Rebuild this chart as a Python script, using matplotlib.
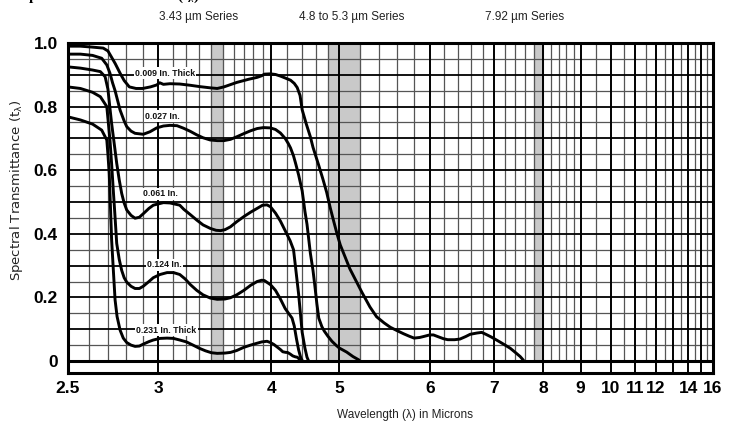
import numpy as np
import matplotlib
matplotlib.use("Agg")
import matplotlib.pyplot as plt

plt.rcParams['font.family'] = ['Liberation Sans Narrow', 'Liberation Sans', 'DejaVu Sans']
plt.rcParams['mathtext.default'] = 'regular'

# ---------------- data ----------------
lam_009 = [2.5, 2.56, 2.62, 2.675, 2.70, 2.72, 2.74, 2.767, 2.79, 2.82, 2.86, 2.90, 2.95, 2.99,
           3.01, 3.035, 3.08, 3.15, 3.23, 3.30, 3.39, 3.45, 3.51, 3.63, 3.75, 3.84, 3.89, 3.92,
           3.99, 4.05, 4.11, 4.18, 4.24, 4.29, 4.33, 4.37, 4.40, 4.46, 4.52, 4.56, 4.65, 4.72,
           4.78, 4.84, 4.90, 4.96, 5.01, 5.10, 5.22, 5.30, 5.37, 5.45, 5.52, 5.60, 5.67, 5.74,
           5.80, 5.87, 5.92, 6.0, 6.05, 6.13, 6.19, 6.25, 6.35, 6.43, 6.52, 6.59, 6.70, 6.78,
           6.85, 6.95, 7.1, 7.2, 7.3, 7.4, 7.5, 7.57]
t_009 = [0.99, 0.99, 0.987, 0.984, 0.975, 0.955, 0.935, 0.905, 0.882, 0.862, 0.857, 0.857, 0.862, 0.868,
         0.875, 0.870, 0.872, 0.871, 0.867, 0.863, 0.859, 0.857, 0.862, 0.876, 0.886, 0.892, 0.897, 0.902,
         0.903, 0.901, 0.896, 0.889, 0.883, 0.873, 0.860, 0.835, 0.790, 0.745, 0.705, 0.672, 0.615, 0.570,
         0.530, 0.482, 0.440, 0.400, 0.365, 0.290, 0.215, 0.170, 0.139, 0.120, 0.106, 0.095, 0.086, 0.078,
         0.072, 0.074, 0.077, 0.082, 0.082, 0.075, 0.070, 0.067, 0.067, 0.069, 0.077, 0.084, 0.088, 0.090,
         0.084, 0.075, 0.060, 0.050, 0.040, 0.027, 0.014, 0.002]

lam_027 = [2.5, 2.56, 2.62, 2.667, 2.694, 2.711, 2.725, 2.739, 2.767, 2.79, 2.805, 2.83, 2.854, 2.904,
           2.947, 2.99, 3.035, 3.08, 3.13, 3.178, 3.23, 3.28, 3.33, 3.39, 3.45, 3.51, 3.57, 3.63,
           3.70, 3.77, 3.84, 3.91, 3.99, 4.05, 4.11, 4.17, 4.21, 4.24, 4.28, 4.31, 4.35, 4.40,
           4.44, 4.47, 4.52, 4.56, 4.59, 4.62, 4.65, 4.70, 4.74, 4.80, 4.87, 4.94, 5.00, 5.07,
           5.13, 5.19]
t_027 = [0.965, 0.965, 0.961, 0.952, 0.931, 0.905, 0.875, 0.850, 0.789, 0.755, 0.737, 0.723, 0.716, 0.713,
         0.721, 0.733, 0.739, 0.741, 0.740, 0.732, 0.722, 0.711, 0.702, 0.695, 0.693, 0.693, 0.697, 0.705,
         0.715, 0.724, 0.731, 0.734, 0.733, 0.728, 0.717, 0.700, 0.684, 0.670, 0.645, 0.620, 0.585, 0.535,
         0.470, 0.430, 0.339, 0.285, 0.234, 0.180, 0.135, 0.108, 0.094, 0.078, 0.062, 0.050, 0.041, 0.028,
         0.014, 0.003]

lam_061 = [2.5, 2.56, 2.62, 2.66, 2.685, 2.70, 2.71, 2.72, 2.735, 2.748, 2.762, 2.776, 2.79, 2.805,
           2.83, 2.854, 2.88, 2.904, 2.94, 2.968, 3.035, 3.08, 3.15, 3.18, 3.23, 3.28, 3.33, 3.39,
           3.44, 3.48, 3.52, 3.57, 3.63, 3.70, 3.77, 3.84, 3.90, 3.95, 3.99, 4.05, 4.11, 4.17,
           4.235, 4.28, 4.30, 4.35, 4.40, 4.44, 4.47, 4.49]
t_061 = [0.925, 0.921, 0.915, 0.910, 0.894, 0.855, 0.800, 0.747, 0.680, 0.622, 0.570, 0.527, 0.497, 0.475,
         0.458, 0.449, 0.452, 0.463, 0.480, 0.490, 0.498, 0.497, 0.490, 0.477, 0.460, 0.443, 0.428, 0.417,
         0.411, 0.410, 0.413, 0.422, 0.438, 0.454, 0.468, 0.480, 0.490, 0.491, 0.485, 0.465, 0.440, 0.410,
         0.378, 0.350, 0.310, 0.210, 0.090, 0.040, 0.012, 0.002]

lam_124 = [2.5, 2.56, 2.62, 2.66, 2.694, 2.711, 2.72, 2.729, 2.738, 2.748, 2.762, 2.776, 2.79, 2.805,
           2.83, 2.854, 2.88, 2.904, 2.94, 2.968, 3.012, 3.06, 3.105, 3.15, 3.19, 3.23, 3.28, 3.33,
           3.39, 3.45, 3.52, 3.57, 3.63, 3.70, 3.77, 3.84, 3.89, 3.92, 3.99, 4.05, 4.11, 4.17,
           4.22, 4.26, 4.29, 4.32, 4.35, 4.38, 4.40]
t_124 = [0.862, 0.857, 0.845, 0.831, 0.800, 0.695, 0.620, 0.538, 0.460, 0.370, 0.320, 0.285, 0.262, 0.248,
         0.235, 0.228, 0.228, 0.235, 0.250, 0.262, 0.272, 0.278, 0.278, 0.272, 0.258, 0.240, 0.222, 0.208,
         0.198, 0.194, 0.195, 0.199, 0.208, 0.222, 0.238, 0.250, 0.254, 0.253, 0.240, 0.222, 0.195, 0.165,
         0.148, 0.135, 0.110, 0.070, 0.035, 0.010, 0.002]

lam_231 = [2.5, 2.56, 2.62, 2.667, 2.694, 2.70, 2.707, 2.714, 2.72, 2.73, 2.739, 2.75, 2.767, 2.785,
           2.805, 2.83, 2.854, 2.88, 2.904, 2.94, 2.968, 3.012, 3.06, 3.105, 3.15, 3.2, 3.25, 3.3,
           3.35, 3.40, 3.45, 3.52, 3.57, 3.63, 3.70, 3.77, 3.84, 3.89, 3.95, 3.99, 4.03, 4.08,
           4.11, 4.14, 4.18, 4.20, 4.235, 4.27, 4.305, 4.33, 4.36, 4.373]
t_231 = [0.768, 0.758, 0.745, 0.726, 0.695, 0.650, 0.590, 0.480, 0.381, 0.280, 0.192, 0.140, 0.097, 0.072,
         0.058, 0.050, 0.046, 0.047, 0.053, 0.061, 0.066, 0.071, 0.072, 0.071, 0.066, 0.060, 0.050, 0.040,
         0.032, 0.026, 0.024, 0.025, 0.027, 0.033, 0.043, 0.050, 0.056, 0.060, 0.062, 0.058, 0.052, 0.042,
         0.036, 0.029, 0.027, 0.027, 0.022, 0.016, 0.013, 0.012, 0.006, 0.002]

curve_labels = ["0.009 In. Thick", "0.027 In.", "0.061 In.", "0.124 In.", "0.231 In. Thick"]
label_pos_lam = [3.046, 3.03, 3.012, 3.044, 3.055]
label_pos_t = [0.905, 0.770, 0.526, 0.302, 0.097]

band_lo = [3.4, 4.8, 7.8]
band_hi = [3.5, 5.2, 8.0]
band_titles = ["3.43 \u00b5m Series", "4.8 to 5.3 \u00b5m Series", "7.92 \u00b5m Series"]
band_title_px = [199, 352, 525]

xtick_vals = [2.5, 3, 4, 5, 6, 7, 8, 9, 10, 11, 12, 14, 16]
xtick_labels = ["2.5", "3", "4", "5", "6", "7", "8", "9", "10", "11", "12", "14", "16"]
ytick_vals = [0, 0.2, 0.4, 0.6, 0.8, 1.0]
ytick_labels = ["0", "0.2", "0.4", "0.6", "0.8", "1.0"]


# ---------------- scale: wavenumber, 2x expansion below 2000 cm-1 ----------------
def fwd(lam):
    lam = np.asarray(lam, dtype=float)
    with np.errstate(divide='ignore', invalid='ignore'):
        nu = 1e4 / lam
    return np.where(nu >= 2000, 4000 - nu, 6000 - 2 * nu)


def inv(u):
    u = np.asarray(u, dtype=float)
    nu = np.where(u <= 2000, 4000 - u, (6000 - u) / 2)
    with np.errstate(divide='ignore', invalid='ignore'):
        return 1e4 / nu


W, H = 735, 423
fig = plt.figure(figsize=(W / 100, H / 100), dpi=100)
L, R, T, B = 67.7, 712.5, 43, 373
ax = fig.add_axes([L / W, 1 - B / H, (R - L) / W, (B - T) / H])
ax.set_xscale('function', functions=(fwd, inv))
ax.set_xlim(2.5, 16)
ax.set_ylim(-12 / 318, 1.0)

# bands
for lo, hi in zip(band_lo, band_hi):
    ax.fill_between([lo, hi], 0, 1, color='#c9c9c9', lw=0, zorder=0.5)
    ax.vlines([lo, hi], 0, 1, color='#9a9a9a', lw=0.8, zorder=0.6)

# vertical grid
minor_x = np.concatenate([np.arange(2.6, 4.0, 0.1), np.arange(4.2, 9.0, 0.2),
                          np.arange(9.5, 16, 0.5)])
minor_x = [v for v in minor_x if abs(v - round(v)) > 1e-6]
major_x = list(range(3, 17))
ax.vlines(minor_x, 0, 1, color='#555555', lw=0.9, zorder=1)
ax.vlines(major_x, 0, 1, color='black', lw=1.4, zorder=1.5)
ax.vlines(major_x, -12 / 318, 0, color='black', lw=1.4, zorder=1.5)

# horizontal grid
for k in range(1, 20):
    v = k * 0.05
    if k % 2 == 0:
        ax.hlines(v, 2.5, 16, color='black', lw=1.3, zorder=1.2)
    else:
        ax.hlines(v, 2.5, 16, color='#555555', lw=0.9, zorder=1.1)
ax.axhline(0, color='black', lw=2.2, zorder=2)

# curves
for lam, t in [(lam_009, t_009), (lam_027, t_027), (lam_061, t_061),
               (lam_124, t_124), (lam_231, t_231)]:
    ax.plot(lam, t, color='black', lw=2.1, solid_capstyle='round',
            solid_joinstyle='round', zorder=4)

for txt, lx, ly in zip(curve_labels, label_pos_lam, label_pos_t):
    ax.text(lx, ly, txt, fontsize=6.3, fontweight='bold', ha='center', va='center',
            color='#111111', zorder=3,
            bbox=dict(boxstyle='square,pad=0.15', fc='white', ec='none'))

for s in ax.spines.values():
    s.set_linewidth(2.2)
    s.set_color('black')
    s.set_zorder(5)

ax.set_xticks(xtick_vals)
ax.set_xticklabels(xtick_labels, fontsize=12.5, fontweight='bold')
ax.xaxis.set_minor_locator(matplotlib.ticker.NullLocator())
ax.set_yticks(ytick_vals)
ax.set_yticklabels(ytick_labels, fontsize=12.5, fontweight='bold')
ax.tick_params(axis='both', length=0)
ax.tick_params(axis='x', pad=6)
ax.tick_params(axis='y', pad=7)

fig.text(405 / W, 1 - 415 / H, "Wavelength (\u03bb) in Microns", fontsize=8.5,
         ha='center', va='center', color='#222222')
fig.text(17 / W, 1 - 190 / H, "Spectral Transmittance (t$_{\u03bb}$)", fontsize=9.5,
         family=['DejaVu Sans'], ha='center', va='center', rotation=90, color='#222222')

for txt, px in zip(band_titles, band_title_px):
    fig.text(px / W, 1 - 17 / H, txt, fontsize=8.5, ha='center', va='center', color='#222222')

# heading cut off by the top edge (only descenders remain visible)
fig.text(20 / W, 1 + 0.5 / H, "Spectral Transmittance (t$_{\u03bb}$)", fontsize=11,
         family=['Liberation Serif', 'DejaVu Serif'], fontweight='bold',
         ha='left', va='baseline', color='black')

fig.savefig("out.png", dpi=100, facecolor='white')
